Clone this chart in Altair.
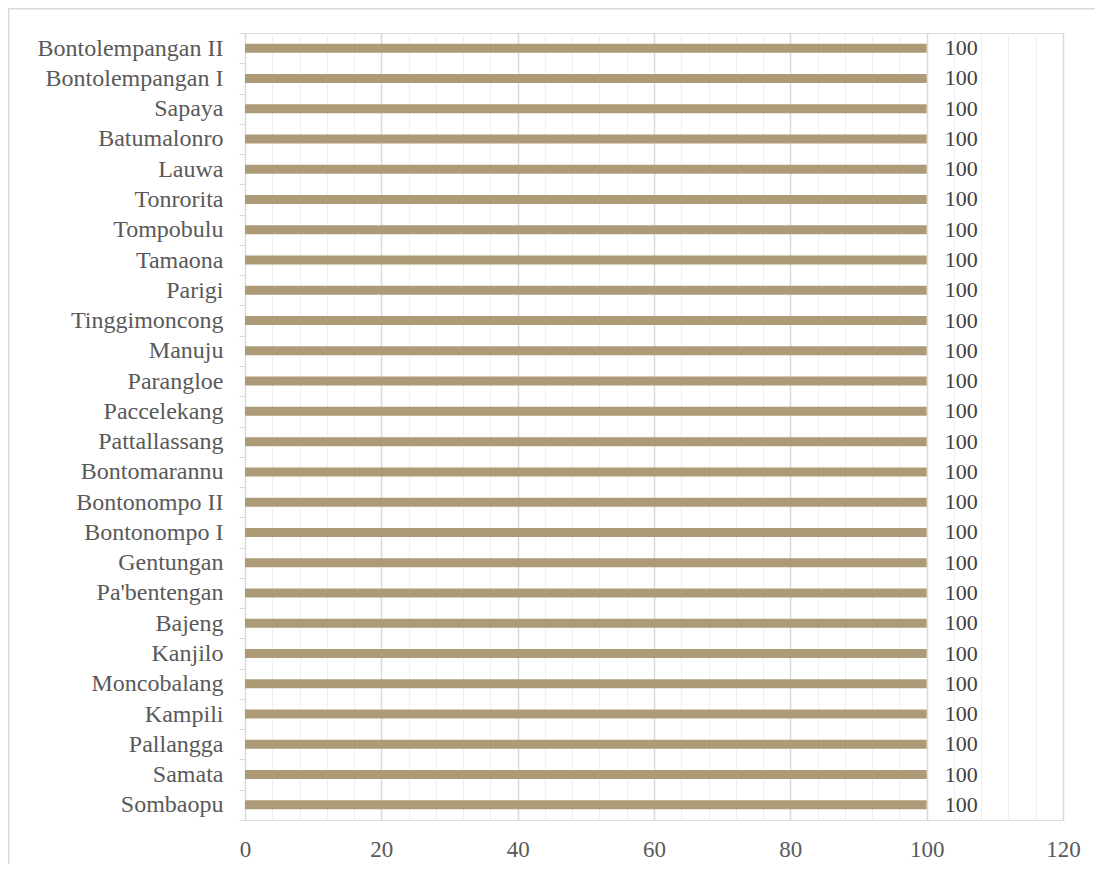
import altair as alt
import pandas as pd

categories = [
    "Bontolempangan II", "Bontolempangan I", "Sapaya", "Batumalonro", "Lauwa",
    "Tonrorita", "Tompobulu", "Tamaona", "Parigi", "Tinggimoncong", "Manuju",
    "Parangloe", "Paccelekang", "Pattallassang", "Bontomarannu", "Bontonompo II",
    "Bontonompo I", "Gentungan", "Pa'bentengan", "Bajeng", "Kanjilo",
    "Moncobalang", "Kampili", "Pallangga", "Samata", "Sombaopu",
]
values = [100] * len(categories)
x_ticks = list(range(0, 121, 4))

df = pd.DataFrame({"desa": categories, "nilai": values})

FONT = "Liberation Serif"
W, H = 818, 787
PL, PT, PR, PB = 237, 25, 32, 44

y_enc = alt.Y(
    "desa:N", sort=categories, title=None,
    scale=alt.Scale(paddingInner=0, paddingOuter=0),
    axis=alt.Axis(
        domainColor="#D9D9D9", tickColor="#D9D9D9", tickSize=6, tickBand="extent",
        labelFont=FONT, labelFontSize=24, labelColor="#595959", labelPadding=16,
        grid=False, labelLimit=400,
    ),
)
x_enc = alt.X(
    "nilai:Q", title=None,
    scale=alt.Scale(domain=[0, 120], nice=False, zero=True),
    axis=alt.Axis(
        values=x_ticks, tickCount=60, ticks=False, domain=False, labelOverlap=False,
        labelFlush=False,
        labelExpr="datum.value % 20 === 0 ? datum.label : ''",
        labelFont=FONT, labelFontSize=23, labelColor="#595959", labelPadding=18,
        grid=True,
        gridColor={"condition": {"test": "datum.value % 20 === 0", "value": "#D9D9D9"}, "value": "#EFEFEF"},
        gridWidth={"condition": {"test": "datum.value % 20 === 0", "value": 1.5}, "value": 1},
    ),
)

bars = alt.Chart(df).mark_bar(size=9, color="#AD9B77").encode(x=x_enc, y=y_enc)
labels = alt.Chart(df).mark_text(
    align="left", baseline="middle", dx=18, font=FONT, fontSize=22, color="#404040"
).encode(x="nilai:Q", y=alt.Y("desa:N", sort=categories), text="nilai:Q")

frame_df = pd.DataFrame({"k": [0]})
top_line = alt.Chart(frame_df).mark_rule(color="#D9D9D9", strokeWidth=1.5).encode(
    x=alt.value(-PL), x2=alt.value(W + PR), y=alt.value(-PT + 0.75)
)
left_line = alt.Chart(frame_df).mark_rule(color="#D9D9D9", strokeWidth=1.5).encode(
    x=alt.value(-PL + 0.75), y=alt.value(-PT), y2=alt.value(H + PB)
)

chart = alt.layer(bars, labels, top_line, left_line).properties(
    width=W, height=H,
    autosize=alt.AutoSizeParams(type="none"),
    padding={"left": PL, "top": PT, "right": PR, "bottom": PB},
).configure_view(stroke=None).configure(background="white")

chart.save("out.html", embed_options={"renderer": "svg", "actions": False})
